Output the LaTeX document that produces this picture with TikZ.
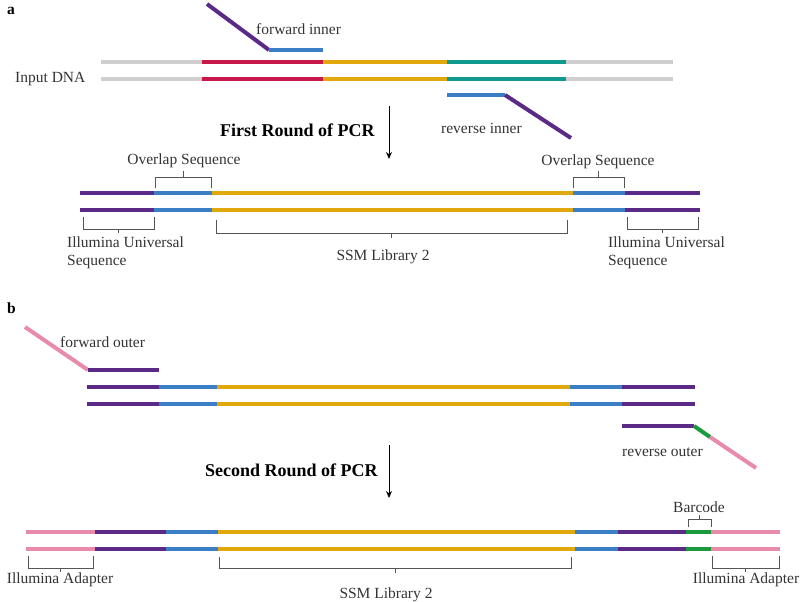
\documentclass[tikz,border=0pt]{standalone}
\usepackage{fontspec}
\setmainfont{Liberation Serif}
\usetikzlibrary{arrows.meta}
\definecolor{cgray}{HTML}{D0CDCE}
\definecolor{cred}{HTML}{C8174A}
\definecolor{cyel}{HTML}{E0A80C}
\definecolor{cteal}{HTML}{10998F}
\definecolor{cblue}{HTML}{3A7EC6}
\definecolor{cpurp}{HTML}{5B2A86}
\definecolor{cpink}{HTML}{E88AAA}
\definecolor{cgreen}{HTML}{1A9A3D}
\definecolor{ctext}{HTML}{333333}
\definecolor{cbr}{HTML}{555555}
\tikzset{
  strand/.style={line width=4pt},
  lbl/.style={text=ctext,font=\fontsize{15.5}{18}\selectfont,inner sep=0pt},
  hdr/.style={text=black,font=\fontsize{18}{20}\selectfont\bfseries,inner sep=0pt},
  brk/.style={draw=cbr,line width=1pt},
  flow/.style={draw=black,line width=1pt,-{Stealth[length=7pt,width=6pt]}}
}
\newcommand\seg[4]{\draw[strand,#1] (#2,#4) -- (#3,#4);}
% bracket: x1 x2 yleg-end ybar tick-end
\newcommand\brdown[5]{\draw[brk] (#1,#3) -- (#1,#4) -- (#2,#4) -- (#2,#3); \draw[brk] ({(#1+#2)/2},#4) -- ({(#1+#2)/2},#5);}
\begin{document}
\begin{tikzpicture}[x=1pt,y=-1pt]
\useasboundingbox (0,0) rectangle (800,602);
% ---------- panel a ----------
\node[hdr,anchor=west] (la) at (7,11) {\fontsize{15.5}{17}\selectfont a};
\node[lbl,anchor=west] (inp) at (15,79) {Input DNA};
\foreach \y in {62,79}{
  \seg{cgray}{101}{202}{\y}
  \seg{cred}{202}{323}{\y}
  \seg{cyel}{323}{447}{\y}
  \seg{cteal}{447}{566}{\y}
  \seg{cgray}{566}{673}{\y}
}
% forward inner
\coordinate (fi1) at (207,4);
\coordinate (fi2) at (269,50);
\coordinate (fi3) at (323,50);
\draw[strand,cpurp] (fi1) -- (fi2);
\draw[strand,cblue] (fi2) -- (fi3);
\node[lbl,anchor=west] (fil) at (256,29) {forward inner};
% reverse inner
\coordinate (ri1) at (447,95);
\coordinate (ri2) at (505,95);
\coordinate (ri3) at (571,138);
\draw[strand,cblue] (ri1) -- (ri2);
\draw[strand,cpurp] (ri2) -- (ri3);
\node[lbl,anchor=west] (ril) at (441,128) {reverse inner};
% first round
\node[hdr,anchor=west] (r1) at (220,130) {First Round of PCR};
\coordinate (a1s) at (389,106);
\coordinate (a1e) at (389,159);
\draw[flow] (a1s) -- (a1e);
\foreach \y in {193,210}{
  \seg{cpurp}{80}{154}{\y}
  \seg{cblue}{154}{212}{\y}
  \seg{cyel}{212}{573}{\y}
  \seg{cblue}{573}{625}{\y}
  \seg{cpurp}{625}{700}{\y}
}
% overlap brackets (above)
\brdown{155}{211}{188}{177}{171}
\node[lbl] (ov1) at (184,161) {Overlap Sequence};
\brdown{573}{624}{188}{177}{171}
\node[lbl] (ov2) at (598,162) {Overlap Sequence};
% below brackets
\brdown{83}{154}{217}{229}{233}
\node[lbl,anchor=west,align=left] (iu1) at (67,253) {Illumina Universal\\Sequence};
\brdown{216}{567}{220}{233}{238}
\node[lbl] (ssm1) at (383,257) {SSM Library 2};
\brdown{627}{698}{217}{229}{233}
\node[lbl,anchor=west,align=left] (iu2) at (608,253) {Illumina Universal\\Sequence};
% ---------- panel b ----------
\node[hdr,anchor=west] (lb) at (7,308) {\fontsize{15.5}{17}\selectfont b};
\coordinate (fo1) at (25,327);
\coordinate (fo2) at (88,370);
\coordinate (fo3) at (159,370);
\draw[strand,cpink] (fo1) -- (fo2);
\draw[strand,cpurp] (fo2) -- (fo3);
\node[lbl,anchor=west] (fol) at (60,342) {forward outer};
\foreach \y in {387,404}{
  \seg{cpurp}{87}{159}{\y}
  \seg{cblue}{159}{217}{\y}
  \seg{cyel}{217}{570}{\y}
  \seg{cblue}{570}{622}{\y}
  \seg{cpurp}{622}{695}{\y}
}
% reverse outer
\coordinate (ro1) at (622,426);
\coordinate (ro2) at (694,426);
\coordinate (ro3) at (710,437);
\coordinate (ro4) at (756,468);
\draw[strand,cpurp] (ro1) -- (ro2);
\draw[strand,cgreen] (ro2) -- (ro3);
\draw[strand,cpink] (ro3) -- (ro4);
\node[lbl,anchor=west] (rol) at (622,452) {reverse outer};
% second round
\node[hdr,anchor=west] (r2) at (205,470) {Second Round of PCR};
\coordinate (a2s) at (389,445);
\coordinate (a2e) at (389,498);
\draw[flow] (a2s) -- (a2e);
\foreach \y in {532,549}{
  \seg{cpink}{26}{95}{\y}
  \seg{cpurp}{95}{166}{\y}
  \seg{cblue}{166}{218}{\y}
  \seg{cyel}{218}{575}{\y}
  \seg{cblue}{575}{618}{\y}
  \seg{cpurp}{618}{686}{\y}
  \seg{cgreen}{686}{711}{\y}
  \seg{cpink}{711}{780}{\y}
}
\brdown{688}{711}{527}{519}{515}
\node[lbl] (bc) at (699,507) {Barcode};
\brdown{28}{93}{556}{568}{572}
\node[lbl] (ia1) at (60,580) {Illumina Adapter};
\brdown{219}{571}{557}{568}{573}
\node[lbl] (ssm2) at (386,595) {SSM Library 2};
\brdown{712}{779}{556}{568}{572}
\node[lbl] (ia2) at (746,580) {Illumina Adapter};
\end{tikzpicture}
\end{document}
